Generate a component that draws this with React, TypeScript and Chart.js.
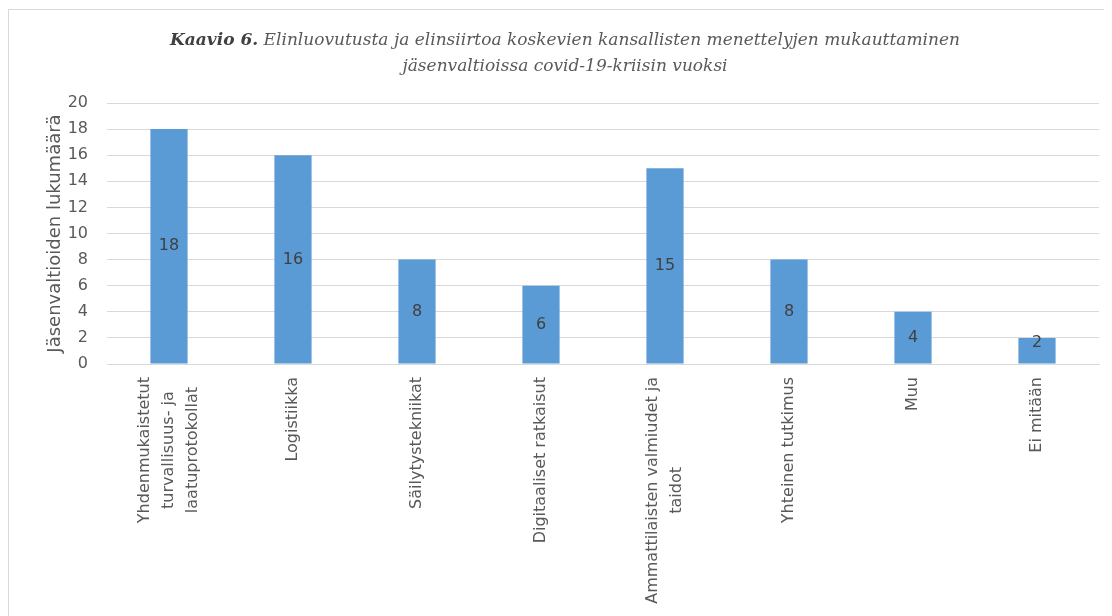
import React, { useEffect, useRef } from "react";
import { Chart, registerables } from "chart.js";

Chart.register(...registerables);

const categories: string[][] = [
  ["Yhdenmukaistetut", "turvallisuus- ja", "laatuprotokollat"],
  ["Logistiikka"],
  ["Säilytystekniikat"],
  ["Digitaaliset ratkaisut"],
  ["Ammattilaisten valmiudet ja", "taidot"],
  ["Yhteinen tutkimus"],
  ["Muu"],
  ["Ei mitään"],
];
const values: number[] = [18, 16, 8, 6, 15, 8, 4, 2];
const yTitle = "Jäsenvaltioiden lukumäärä";
const titleBold = "Kaavio 6.";
const titleLine1 = " Elinluovutusta ja elinsiirtoa koskevien kansallisten menettelyjen mukauttaminen";
const titleLine2 = "jäsenvaltioissa covid-19-kriisin vuoksi";
const yMin = 0;
const yMax = 20;
const yStep = 2;

const SANS = '"DejaVu Sans"';
const TEXT = "#595959";

const xLabelPlugin = {
  id: "xLabels",
  afterDraw(chart: any) {
    const xs = chart.scales.x;
    const ctx = chart.ctx;
    ctx.save();
    ctx.font = `16px ${SANS}`;
    ctx.fillStyle = TEXT;
    const LH = 24;
    categories.forEach((lines, i) => {
      const x = xs.getPixelForValue(i);
      const y = xs.top + 13;
      const maxW = Math.max(...lines.map((l) => ctx.measureText(l).width));
      ctx.save();
      ctx.translate(x, y);
      ctx.rotate(-Math.PI / 2);
      ctx.textAlign = "center";
      ctx.textBaseline = "middle";
      lines.forEach((l, j) => {
        ctx.fillText(l, -maxW / 2, (j - (lines.length - 1) / 2) * LH);
      });
      ctx.restore();
    });
    ctx.restore();
  },
};

const dataLabelPlugin = {
  id: "dataLabels",
  afterDatasetsDraw(chart: any) {
    const ctx = chart.ctx;
    const meta = chart.getDatasetMeta(0);
    ctx.save();
    ctx.font = `16px ${SANS}`;
    ctx.fillStyle = "#404040";
    ctx.textAlign = "center";
    ctx.textBaseline = "middle";
    meta.data.forEach((bar: any, i: number) => {
      const mid = (bar.y + bar.base) / 2;
      const y = Math.min(mid, bar.base - 21);
      ctx.fillText(String(values[i]), bar.x, y);
    });
    ctx.restore();
  },
};

export default function App() {
  const ref = useRef<HTMLCanvasElement>(null);

  useEffect(() => {
    document.documentElement.style.overflow = "hidden";
    document.body.style.overflow = "hidden";
    const chart = new Chart(ref.current as HTMLCanvasElement, {
      type: "bar",
      data: {
        labels: categories,
        datasets: [
          {
            data: values,
            backgroundColor: "#5B9BD5",
            borderWidth: 0,
            barPercentage: 0.3,
            categoryPercentage: 1,
          },
        ],
      },
      plugins: [xLabelPlugin, dataLabelPlugin],
      options: {
        animation: false,
        responsive: false,
        layout: { padding: { left: 0, right: 13, top: 93, bottom: 0 } },
        plugins: {
          legend: { display: false },
          tooltip: { enabled: false },
          title: { display: false },
        },
        scales: {
          x: {
            grid: { display: false },
            border: { display: true, color: "#d9d9d9", width: 1 },
            ticks: { display: false },
            afterFit: (s: any) => {
              s.height = 252;
            },
          },
          y: {
            min: yMin,
            max: yMax,
            ticks: {
              stepSize: yStep,
              padding: 19,
              color: TEXT,
              font: { family: SANS, size: 16 },
            },
            grid: { color: "#d9d9d9", drawTicks: false },
            border: { display: false },
            title: {
              display: true,
              text: yTitle,
              color: TEXT,
              font: { family: SANS, size: 18 },
              padding: { top: 36, bottom: 0 },
            },
            afterFit: (s: any) => {
              s.width = 98;
            },
          },
        },
      },
    });
    return () => chart.destroy();
  }, []);

  return (
    <div
      style={{
        position: "relative",
        marginTop: 1,
        width: 1120,
        height: 620,
        boxSizing: "border-box",
        borderLeft: "1px solid #d9d9d9",
        borderTop: "1px solid #d9d9d9",
        overflow: "hidden",
        background: "#fff",
      }}
    >
      <canvas
        ref={ref}
        width={1103}
        height={606}
        style={{ position: "absolute", left: 0, top: 0, width: 1103, height: 606 }}
      />
      <div
        style={{
          position: "absolute",
          left: 0,
          top: 16,
          width: 1112,
          textAlign: "center",
          fontFamily: '"DejaVu Serif", serif',
          fontStyle: "italic",
          fontSize: 17,
          lineHeight: "26px",
          color: TEXT,
          whiteSpace: "nowrap",
        }}
      >
        <span style={{ fontWeight: "bold", color: "#404040" }}>{titleBold}</span>
        {titleLine1}
        <br />
        {titleLine2}
      </div>
    </div>
  );
}
